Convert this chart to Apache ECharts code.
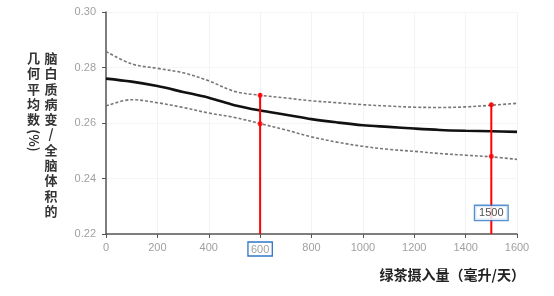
<!DOCTYPE html>
<html><head><meta charset="utf-8">
<script src="https://cdn.jsdelivr.net/npm/echarts@6/dist/echarts.min.js"></script>
<style>html,body{margin:0;padding:0;background:#fff}#c{width:554px;height:296px}</style>
</head><body><div id="c"></div>
<script>
var xValues = [0,100,200,300,400,500,600,700,800,900,1000,1100,1200,1300,1400,1500,1600];
var meanValues = [0.2760,0.2749,0.2733,0.2712,0.2691,0.2664,0.2645,0.2630,0.2614,0.2602,0.2592,0.2586,0.2580,0.2575,0.2572,0.2570,0.2568];
var upperValues = [0.2858,0.2813,0.2797,0.2781,0.2752,0.2714,0.2700,0.2690,0.2680,0.2673,0.2666,0.2661,0.2657,0.2656,0.2658,0.2664,0.2671];
var lowerValues = [0.2661,0.2684,0.2673,0.2656,0.2636,0.2620,0.2598,0.2575,0.2550,0.2531,0.2516,0.2505,0.2498,0.2490,0.2484,0.2478,0.2469];
var refX = [600, 1500];
var refTop = [0.2708, 0.2673];
var refUpperDot = [0.2700, 0.2666];
var refLowerDot = [0.2597, 0.2480];
var refLabel = '1500';
var refLabelY = 0.2276;
var yTicks = ['0.22','0.24','0.26','0.28','0.30'];
var xTicks = ['0','200','400','600','800','1000','1200','1400','1600'];
var yTitleCol1 = '脑白质病变/全脑体积的';
var yTitleCol2 = '几何平均数';
var yTitleUnit = '(%)';
var xTitle = '绿茶摄入量（毫升/天）';

function pairs(xs, ys){ return xs.map(function(x,i){return [x, ys[i]];}); }
var yMin = 0.22, yMax = 0.30;
var refSeries = refX.map(function(x,i){
  return {type:'line', data:[[x,yMin],[x,refTop[i]]], symbol:'none', z:5,
    lineStyle:{color:'#ff0000', width:2}, animation:false};
});
var dots = [];
refX.forEach(function(x,i){ dots.push([x,refUpperDot[i]]); dots.push([x,refLowerDot[i]]); });

var chart = echarts.init(document.getElementById('c'), null, {renderer:'canvas'});
var cjk = '"Noto Sans CJK SC", sans-serif';
var graphics = [];
for (var i=0;i<yTitleCol1.length;i++){
  graphics.push({type:'text', x:51, y:58+i*15.3, style:{text:yTitleCol1[i], font:'bold 13px '+cjk, fill:'#333', align:'center', verticalAlign:'middle'}});
}
for (var j=0;j<yTitleCol2.length;j++){
  graphics.push({type:'text', x:33.5, y:58+j*15.3, style:{text:yTitleCol2[j], font:'bold 13px '+cjk, fill:'#333', align:'center', verticalAlign:'middle'}});
}
graphics.push({type:'text', x:33.5, y:58+yTitleCol2.length*15.3+6, rotation:-Math.PI/2,
  style:{text:yTitleUnit, font:'bold 13px '+cjk, fill:'#333', align:'center', verticalAlign:'middle'}});
graphics.push({type:'text', right:29, top:268, style:{text:xTitle, font:'bold 14px '+cjk, fill:'#222'}});

chart.setOption({
  animation:false,
  grid:{left:106, right:37, top:12, bottom:62},
  xAxis:{type:'value', min:0, max:1600, interval:200,
    axisLine:{lineStyle:{color:'#555', width:1.5}},
    axisTick:{show:true, length:4, lineStyle:{color:'#555'}},
    splitLine:{show:true, lineStyle:{color:'#f3f3f3'}},
    axisLabel:{color:'#a0a0a0', fontSize:11, margin:8, fontFamily:'Liberation Sans',
      formatter:function(v){ var s=String(v); if (xTicks.indexOf(s)<0) return ''; return s==='600' ? '{b|'+s+'}' : s; },
      rich:{b:{color:'#a0a0a0', fontSize:11, borderColor:'#2e75c6', borderWidth:1.3, padding:[2,3,1,3]}}}
  },
  yAxis:{type:'value', min:yMin, max:yMax, interval:0.02,
    axisLine:{show:true, lineStyle:{color:'#555', width:1.5}},
    axisTick:{show:true, length:4, lineStyle:{color:'#555'}},
    splitLine:{show:true, lineStyle:{color:'#f5f5f5'}},
    axisLabel:{color:'#a0a0a0', fontSize:11, margin:10, fontFamily:'Liberation Sans',
      formatter:function(v){ return yTicks[Math.round((v-yMin)/0.02)] || ''; }}
  },
  graphic:graphics,
  series:[
    {type:'line', data:pairs(xValues, upperValues), smooth:0.35, symbol:'none',
      lineStyle:{color:'#777', width:1.6, type:[3,2]}},
    {type:'line', data:pairs(xValues, lowerValues), smooth:0.35, symbol:'none',
      lineStyle:{color:'#777', width:1.6, type:[3,2]}},
    {type:'line', data:pairs(xValues, meanValues), smooth:0.35, symbol:'none',
      lineStyle:{color:'#111', width:2.6}}
  ].concat(refSeries).concat([
    {type:'scatter', data:dots, symbolSize:5, itemStyle:{color:'#ff0000'}, z:6},
    {type:'scatter', data:[[refX[1], refLabelY]], symbolSize:0, z:7,
      label:{show:true, position:'inside', formatter:refLabel, color:'#222', fontSize:11,
        fontFamily:'Liberation Sans', backgroundColor:'#fff', borderColor:'#2e75c6', borderWidth:1.3, padding:[2,4,1,4]}}
  ])
});
</script></body></html>
